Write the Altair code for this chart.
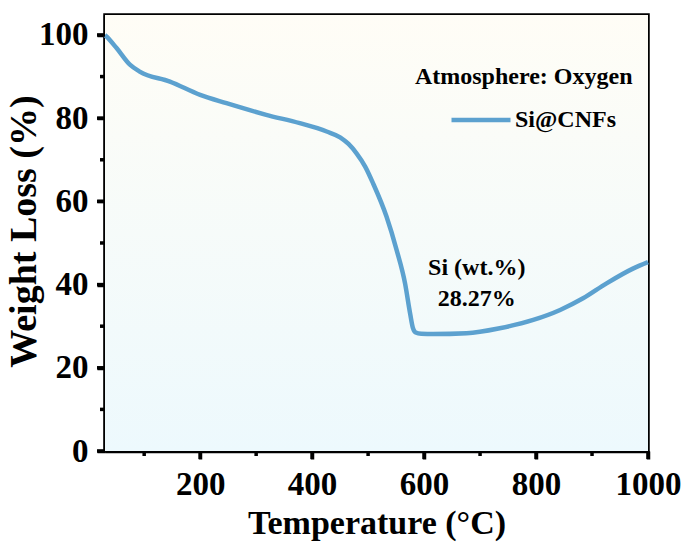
import altair as alt
import pandas as pd

# ---- data ----
temperature = [30, 33, 51, 75, 92, 146, 200, 247, 318, 378, 426, 450, 465, 479,
               495, 509, 533, 551, 566, 575, 580, 585, 595, 616, 676, 735, 795,
               843, 884, 926, 974, 1000]
weight = [100.0, 99.6, 96.8, 92.8, 91.2, 88.8, 85.6, 83.6, 80.8, 78.8, 76.8,
          75.4, 73.8, 71.6, 68.3, 64.3, 56.3, 48.3, 40.3, 33.1, 29.6, 28.5,
          28.2, 28.1, 28.3, 29.5, 31.5, 33.9, 36.7, 40.3, 43.9, 45.4]
series_name = "Si@CNFs"

x_major = [200, 400, 600, 800, 1000]
x_minor = [100, 300, 500, 700, 900]
y_major = [0, 20, 40, 60, 80, 100]
y_minor = [10, 30, 50, 70, 90]

ann_text = ["Atmosphere: Oxygen", "Si (wt.%)", "28.27%"]
ann_x = [778, 694, 694]
ann_y = [88.2, 42.3, 34.9]

FONT = "Liberation Serif"
LINE_COLOR = "#5ca1cf"
PLOT_W, PLOT_H = 543, 436
MAJOR_LEN, MINOR_LEN = 8, 5
BG_GRADIENT = {"gradient": "linear", "x1": 0, "y1": 0, "x2": 0, "y2": 1,
               "stops": [{"offset": 0, "color": "#fffdf6"},
                         {"offset": 1, "color": "#edf9fd"}]}

df = pd.DataFrame({"Temperature": temperature, "Weight": weight,
                   "Sample": [series_name] * len(temperature)})
ann = pd.DataFrame({"T": ann_x, "W": ann_y, "label": ann_text})

x_scale = alt.Scale(domain=[30, 1000], nice=False, zero=False)
y_scale = alt.Scale(domain=[0, 104.8], nice=False)

x_axis = alt.Axis(
    values=x_major, format="d", title="Temperature (°C)", tickSize=MAJOR_LEN,
    titleY=82, titleBaseline="alphabetic", titleFontSize=34,
    labelPadding=9, labelFlush=False, labelOverlap=False,
)
y_axis = alt.Axis(
    values=y_major, format="d", title="Weight Loss (%)", tickSize=MAJOR_LEN,
    titleX=-62, titleY=216, titleBaseline="bottom", titleAngle=270, titleFontSize=38,
    labelPadding=9, labelFlush=False, labelOverlap=False,
)

background = alt.Chart(pd.DataFrame({"a": [0]})).mark_rect(
    color=BG_GRADIENT, strokeWidth=0
).encode(
    x=alt.value(0), x2=alt.value("width"), y=alt.value(0), y2=alt.value("height")
)


def x_ticks(values, length):
    return alt.Chart(pd.DataFrame({"v": values})).mark_rule(
        color="black", strokeWidth=3.5, clip=False
    ).encode(
        x=alt.X("v:Q", scale=x_scale, axis=x_axis),
        y=alt.value(PLOT_H), y2=alt.value(PLOT_H + length),
    )


def y_ticks(values, length):
    return alt.Chart(pd.DataFrame({"v": values})).mark_rule(
        color="black", strokeWidth=3.5, clip=False
    ).encode(
        y=alt.Y("v:Q", scale=y_scale, axis=y_axis),
        x=alt.value(0), x2=alt.value(-length),
    )


line = alt.Chart(df).mark_line(strokeWidth=4.5, interpolate="monotone").encode(
    x=alt.X("Temperature:Q", scale=x_scale, axis=x_axis),
    y=alt.Y("Weight:Q", scale=y_scale, axis=y_axis),
    color=alt.Color("Sample:N", scale=alt.Scale(range=[LINE_COLOR]),
                    legend=alt.Legend(orient="none", legendX=344, legendY=73,
                                      title=None, symbolType="stroke",
                                      symbolSize=3481, symbolStrokeWidth=4.5,
                                      labelFont=FONT, labelFontSize=24,
                                      labelFontWeight="bold", labelColor="black",
                                      labelOffset=2, padding=0)),
)

texts = alt.Chart(ann).mark_text(font=FONT, fontSize=24, fontWeight="bold",
                                 color="black", align="center",
                                 baseline="alphabetic").encode(
    x=alt.X("T:Q", scale=x_scale, axis=x_axis),
    y=alt.Y("W:Q", scale=y_scale, axis=y_axis),
    text="label:N",
)

chart = alt.layer(
    background, line,
    x_ticks(x_major, MAJOR_LEN), x_ticks(x_minor, MINOR_LEN),
    y_ticks(y_major, MAJOR_LEN), y_ticks(y_minor, MINOR_LEN),
    texts,
).properties(
    width=PLOT_W, height=PLOT_H,
    autosize=alt.AutoSizeParams(type="none"),
    padding={"left": 105, "top": 15, "right": 40, "bottom": 91},
    background="white",
).configure_view(
    stroke="black", strokeWidth=3.5,
).configure_axis(
    labelFont=FONT, labelFontSize=33, labelFontWeight="bold", labelColor="black",
    titleFont=FONT, titleFontWeight="bold", titleColor="black",
    domainColor="black", domainWidth=3.5, tickColor="black", tickWidth=3.5,
    grid=False,
)

chart.save("out.html", embed_options={"renderer": "svg", "actions": False})
